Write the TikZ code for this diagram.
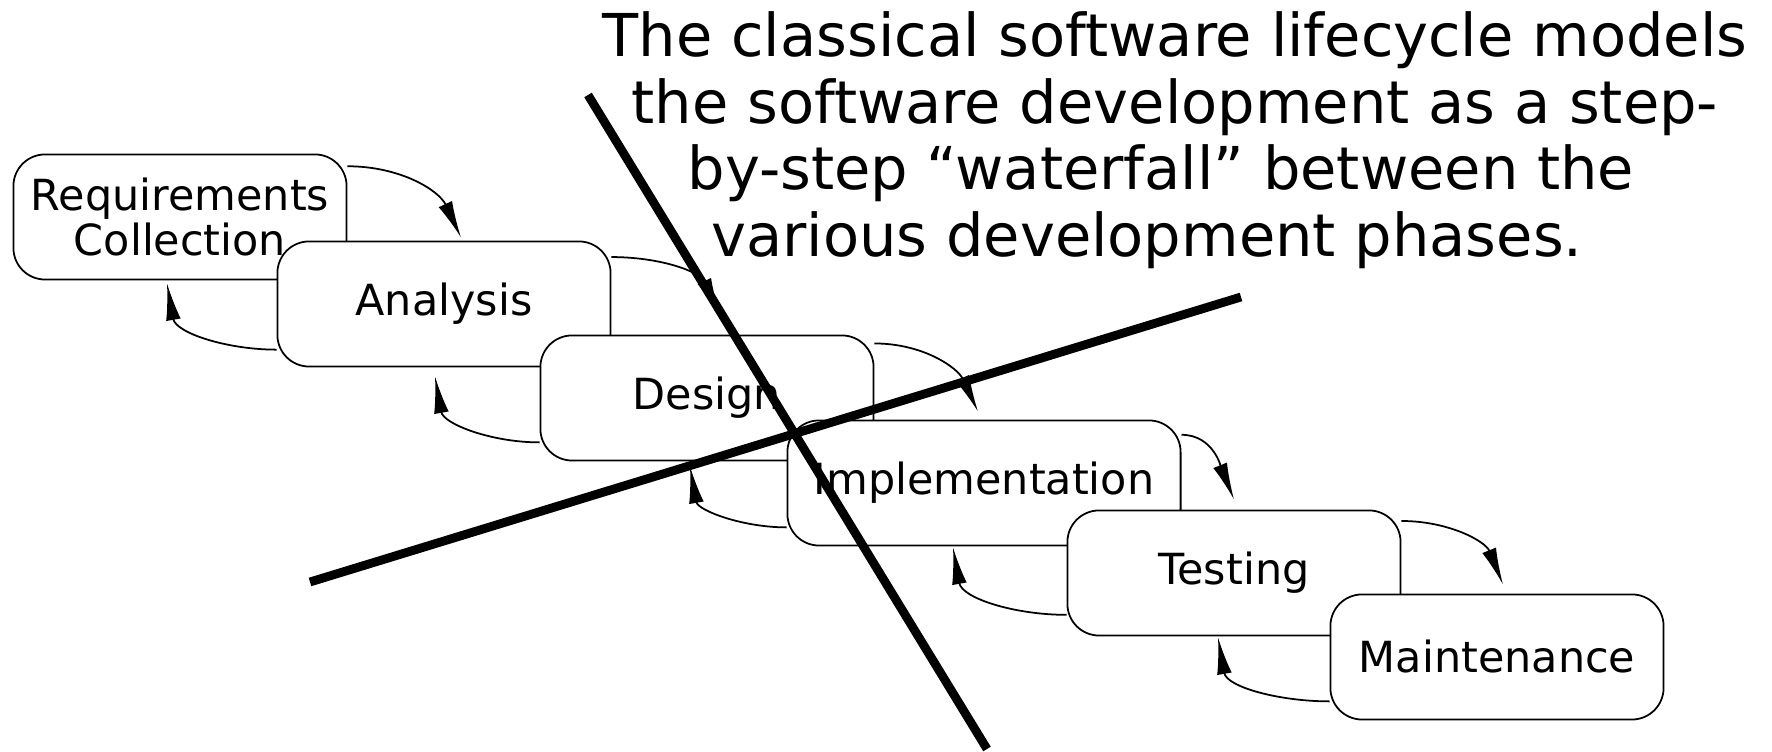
\documentclass[tikz,border=0pt]{standalone}
\usepackage{fontspec}
\setmainfont{DejaVu Sans}
\usepackage{tikz}
\usetikzlibrary{arrows.meta,positioning,calc}

\begin{document}
\begin{tikzpicture}[x=0.01cm,y=0.01cm]

\tikzset{phase/.style={draw, line width=0.5pt, fill=white, rounded corners=9pt,
    minimum width=3.33cm, minimum height=1.25cm, align=center,
    font=\fontsize{12.2}{12.6}\selectfont},
  flow/.style={line width=0.5pt, -{Latex[length=10.5pt,width=4.2pt]}},
  cross/.style={line width=2.5pt}}

\useasboundingbox (0,0) rectangle (1772,752);

\node[anchor=north, align=center, inner sep=0pt,
      font=\fontsize{16.8}{18.96}\selectfont] (title) at (1175,741)
  {The classical software lifecycle models\\
   the software development as a step-\\
   by-step “waterfall” between the\rule{8pt}{0pt}\\
   various development phases.\rule{16pt}{0pt}};

\node[phase] (req) at (180,535) {Requirements\\Collection};
\node[phase] (ana) at (444,448) {Analysis};
\node[phase] (des) at (707,354) {Design};
\node[phase, minimum width=3.93cm] (imp) at (984,269) {Implementation};
\node[phase] (tst) at (1234,179) {Testing};
\node[phase] (mnt) at (1497,95) {Maintenance};

% forward
\draw[flow] ($(req.north east)!0.1!(req.south east)$) to[out=0,in=115] ($(ana.north)+(17,3)$);
\draw[flow] ($(ana.north east)!0.13!(ana.south east)$) to[out=0,in=115] ($(des.north)+(13,20)$);
\draw[flow] ($(des.north east)!0.07!(des.south east)$) to[out=0,in=115] ($(imp.north)+(-6,8)$);
\draw[flow] ($(imp.north east)!0.12!(imp.south east)$) to[out=0,in=112] ($(tst.north)+(0,10)$);
\draw[flow] ($(tst.north east)!0.09!(tst.south east)$) to[out=0,in=112] ($(mnt.north)+(6,9)$);

% back
\draw[flow] ($(ana.north west)!0.86!(ana.south west)$) to[out=180,in=-80] ($(req.south)+(-13,-3)$);
\draw[flow] ($(des.north west)!0.85!(des.south west)$) to[out=180,in=-80] ($(ana.south)+(-9,-9)$);
\draw[flow] ($(imp.north west)!0.85!(imp.south west)$) to[out=180,in=-80] ($(des.south)+(-17,-5)$);
\draw[flow] ($(tst.north west)!0.83!(tst.south west)$) to[out=180,in=-80] ($(imp.south)+(-31,-1)$);
\draw[flow] ($(mnt.north west)!0.85!(mnt.south west)$) to[out=180,in=-80] ($(tst.south)+(-16,-1)$);

% the two crossing strokes
\coordinate (cutA) at (588,657);
\coordinate (cutB) at (987,3);
\coordinate (cutC) at (310,170);
\coordinate (cutD) at (1241,455);
\draw[cross] (cutA) -- (cutB);
\draw[cross] (cutC) -- (cutD);

\end{tikzpicture}
\end{document}
